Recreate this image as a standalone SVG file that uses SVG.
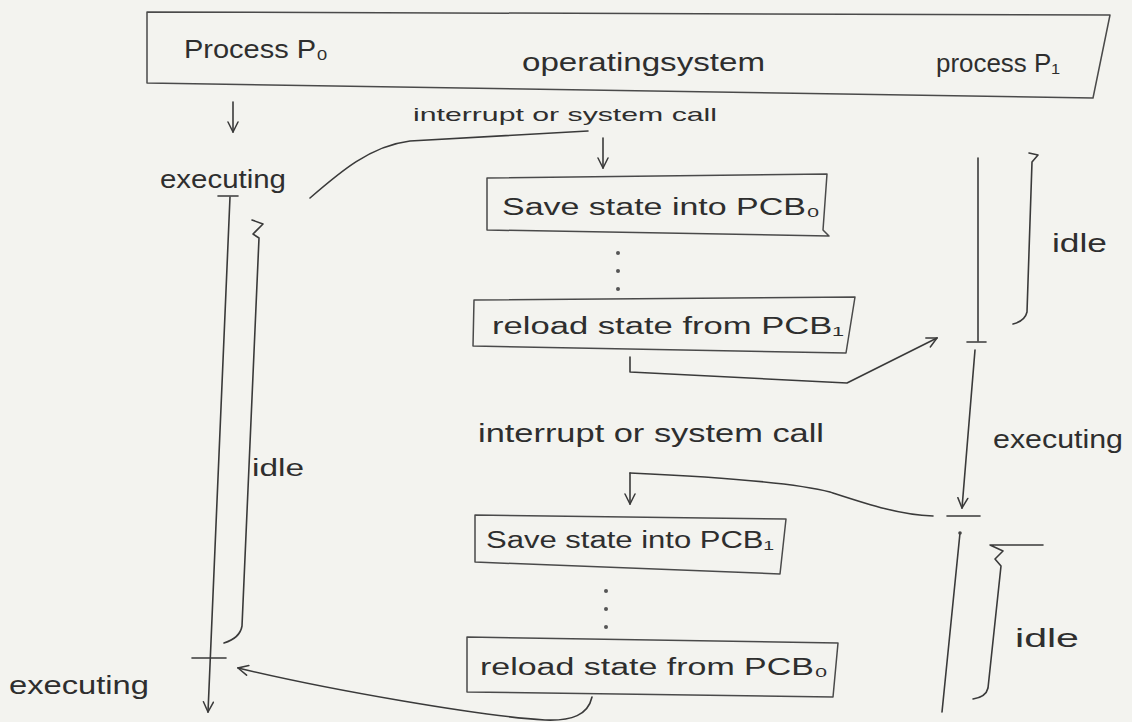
<svg xmlns="http://www.w3.org/2000/svg" width="1132" height="722" viewBox="0 0 1132 722">
  <defs>
    <style>
      .ink { fill: none; stroke: #3a3a3a; stroke-width: 1.6; stroke-linecap: round; stroke-linejoin: round; }
      .box { fill: none; stroke: #4a4a4a; stroke-width: 1.5; stroke-linejoin: round; }
      .lbl { font-family: "Liberation Sans", "DejaVu Sans", sans-serif; fill: #2e2e2e; }
      .big { font-size: 26px; }
      .mid { font-size: 23px; }
      .sm { font-size: 19px; }
    </style>
    <marker id="open" viewBox="0 0 12 12" refX="11" refY="6" markerWidth="12" markerHeight="12" markerUnits="userSpaceOnUse" orient="auto">
      <path d="M1,1 L11,6 L1,11" fill="none" stroke="#3a3a3a" stroke-width="1.5" stroke-linecap="round"/>
    </marker>
  </defs>

  <rect width="1132" height="722" fill="#f3f3ef"/>

  <!-- header band naming the three columns -->
  <g id="header">
    <path class="box" d="M147,12 L1110,15 L1093,98 L147,83 Z"/>
    <text class="lbl big" x="184" y="58" textLength="144" lengthAdjust="spacingAndGlyphs">Process P₀</text>
    <text class="lbl big" x="522" y="71" textLength="243" lengthAdjust="spacingAndGlyphs">operatingsystem</text>
    <text class="lbl big" x="936" y="72" textLength="124" lengthAdjust="spacingAndGlyphs">process P₁</text>
  </g>

  <!-- process P0 timeline -->
  <g id="p0-executing-top">
    <text class="lbl big" x="160" y="188" textLength="126" lengthAdjust="spacingAndGlyphs">executing</text>
  </g>
  <g id="p0-idle">
    <path class="ink" d="M252,220 L263,224 L253,234 L259,238 L242,626 Q240,638 224,643"/>
    <text class="lbl mid" x="252" y="476" textLength="52" lengthAdjust="spacingAndGlyphs">idle</text>
  </g>
  <g id="p0-executing-bottom">
    <text class="lbl big" x="9" y="694" textLength="140" lengthAdjust="spacingAndGlyphs">executing</text>
  </g>

  <!-- operating system column -->
  <g id="os-interrupt-1">
    <text class="lbl sm" x="413" y="121" textLength="304" lengthAdjust="spacingAndGlyphs">interrupt or system call</text>
  </g>
  <g id="save-pcb0">
    <path class="box" d="M487,178 L827,174 L823,230 L829,236 L487,230 Z"/>
    <text class="lbl mid" x="502" y="215" textLength="318" lengthAdjust="spacingAndGlyphs">Save state into PCB₀</text>
  </g>
  <g id="dots-1" fill="#555">
    <circle cx="618" cy="253" r="2"/>
    <circle cx="618" cy="271" r="2"/>
    <circle cx="618" cy="289" r="2"/>
  </g>
  <g id="reload-pcb1">
    <path class="box" d="M474,300 L855,297 L846,353 L473,346 Z"/>
    <text class="lbl mid" x="492" y="334" textLength="352" lengthAdjust="spacingAndGlyphs">reload state from PCB₁</text>
  </g>
  <g id="os-interrupt-2">
    <text class="lbl big" x="478" y="442" textLength="346" lengthAdjust="spacingAndGlyphs">interrupt or system call</text>
  </g>
  <g id="save-pcb1">
    <path class="box" d="M475,515 L786,519 L780,574 L475,562 Z"/>
    <text class="lbl mid" x="486" y="548" textLength="288" lengthAdjust="spacingAndGlyphs">Save state into PCB₁</text>
  </g>
  <g id="dots-2" fill="#555">
    <circle cx="606" cy="591" r="2"/>
    <circle cx="606" cy="609" r="2"/>
    <circle cx="606" cy="627" r="2"/>
  </g>
  <g id="reload-pcb0">
    <path class="box" d="M467,637 L838,643 L833,697 L467,692 Z"/>
    <text class="lbl mid" x="480" y="675" textLength="348" lengthAdjust="spacingAndGlyphs">reload state from PCB₀</text>
  </g>

  <!-- process P1 timeline -->
  <g id="p1-idle-top">
    <path class="ink" d="M1029,153 L1038,155 L1032,162 L1027,312 Q1025,321 1013,324"/>
    <text class="lbl big" x="1052" y="252" textLength="55" lengthAdjust="spacingAndGlyphs">idle</text>
  </g>
  <g id="p1-executing">
    <text class="lbl big" x="993" y="448" textLength="130" lengthAdjust="spacingAndGlyphs">executing</text>
  </g>
  <g id="p1-idle-bottom">
    <path class="ink" d="M990,545 L1043,545 M990,545 L1003,551 L995,559 L1001,566 L988,688 Q986,697 973,699"/>
    <text class="lbl big" x="1015" y="647" textLength="64" lengthAdjust="spacingAndGlyphs">idle</text>
  </g>

  <!-- connectors and timelines -->
  <g id="connectors">
    <!-- P0 start arrow -->
    <path class="ink" d="M233,102 L233,132" marker-end="url(#open)"/>
    <!-- P0 running line with boundary ticks -->
    <path class="ink" d="M218,196 L238,196"/>
    <path class="ink" d="M230,197 L208,712" marker-end="url(#open)"/>
    <path class="ink" d="M192,658 L226,658"/>
    <!-- trap from P0 into the OS -->
    <path class="ink" d="M310,198 C340,172 370,146 410,141 L588,131"/>
    <path class="ink" d="M603,138 L603,168" marker-end="url(#open)"/>
    <!-- OS hands over to P1 -->
    <path class="ink" d="M630,357 L630,372 L847,383 L937,338" marker-end="url(#open)"/>
    <!-- P1 lines -->
    <path class="ink" d="M978,158 L978,341"/>
    <path class="ink" d="M967,342 L986,342"/>
    <path class="ink" d="M975,350 L962,508" marker-end="url(#open)"/>
    <path class="ink" d="M947,516 L980,516"/>
    <path class="ink" d="M960,533 L942,712"/>
    <circle cx="960" cy="533" r="1.8" fill="#444"/>
    <!-- trap from P1 into the OS -->
    <path class="ink" d="M933,516 C900,515 870,505 830,492 C800,484 740,478 630,473"/>
    <path class="ink" d="M630,473 L630,504" marker-end="url(#open)"/>
    <!-- OS hands back to P0 -->
    <path class="ink" d="M592,697 C588,715 572,721 545,720 C480,716 330,690 238,668" marker-end="url(#open)"/>
  </g>
</svg>
